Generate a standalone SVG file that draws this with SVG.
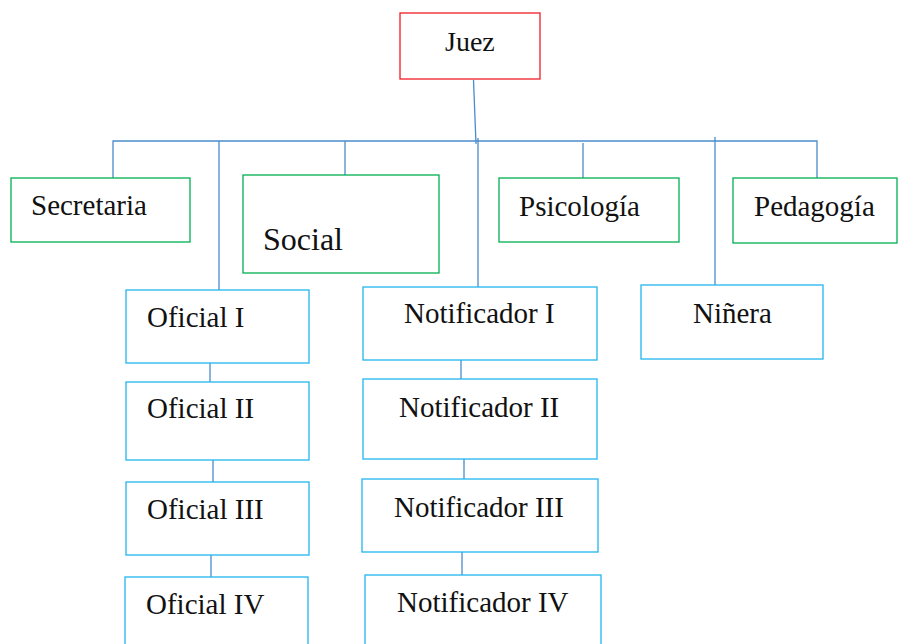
<svg xmlns="http://www.w3.org/2000/svg" width="899" height="644" viewBox="0 0 899 644">
<style>
rect{fill:#fff;stroke-width:1.3}
.red{stroke:#ee1c24}
.green{stroke:#00b050}
.blue{stroke:#21b6ee}
text{font-family:'Liberation Serif','DejaVu Serif',serif;font-size:29px;fill:#111}
#connectors line,#connectors polyline{stroke:#4a8ccc;stroke-width:1.3;fill:none}
</style>
<rect width="899" height="644" fill="#fff" stroke="none"/>
<g id="connectors">
<line x1="473.5" y1="80" x2="476" y2="144"/>
<polyline points="113,178 113,141 817,141 817,178"/>
<line x1="345" y1="141" x2="345" y2="181"/>
<line x1="583" y1="143" x2="583" y2="181"/>
<line x1="219" y1="141" x2="219" y2="290"/>
<line x1="478" y1="138" x2="478" y2="287"/>
<line x1="715" y1="137" x2="715" y2="285"/>
<line x1="210" y1="363" x2="210" y2="382"/>
<line x1="213" y1="460" x2="213" y2="482"/>
<line x1="211" y1="555" x2="211" y2="577"/>
<line x1="461" y1="360" x2="461" y2="379"/>
<line x1="464" y1="459" x2="464" y2="479"/>
<line x1="462" y1="552" x2="462" y2="575"/>
</g>
<g id="juez"><rect class="red" x="400" y="13" width="140" height="66"/><text x="445" y="51" style="font-size:28px">Juez</text></g>
<g id="secretaria"><rect class="green" x="11" y="178" width="179" height="64"/><text x="31" y="215">Secretaria</text></g>
<g id="social"><rect class="green" x="243" y="175" width="196" height="98"/><text x="263" y="250" style="font-size:32px">Social</text></g>
<g id="psicologia"><rect class="green" x="499" y="178" width="180" height="64"/><text x="519" y="216">Psicología</text></g>
<g id="pedagogia"><rect class="green" x="733" y="178" width="164" height="65"/><text x="754" y="216">Pedagogía</text></g>
<g id="oficial1"><rect class="blue" x="126" y="290" width="183" height="73"/><text x="147" y="327">Oficial I</text></g>
<g id="oficial2"><rect class="blue" x="126" y="382" width="183" height="78"/><text x="147" y="418">Oficial II</text></g>
<g id="oficial3"><rect class="blue" x="126" y="482" width="183" height="73"/><text x="147" y="519">Oficial III</text></g>
<g id="oficial4"><rect class="blue" x="125" y="577" width="183" height="75"/><text x="146" y="614">Oficial IV</text></g>
<g id="notificador1"><rect class="blue" x="363" y="287" width="234" height="73"/><text x="404" y="323">Notificador I</text></g>
<g id="notificador2"><rect class="blue" x="363" y="379" width="234" height="80"/><text x="399" y="417">Notificador II</text></g>
<g id="notificador3"><rect class="blue" x="362" y="479" width="236" height="73"/><text x="394" y="517">Notificador III</text></g>
<g id="notificador4"><rect class="blue" x="365" y="575" width="236" height="77"/><text x="397" y="612">Notificador IV</text></g>
<g id="ninera"><rect class="blue" x="641" y="285" width="182" height="74"/><text x="693" y="323">Niñera</text></g>
</svg>
